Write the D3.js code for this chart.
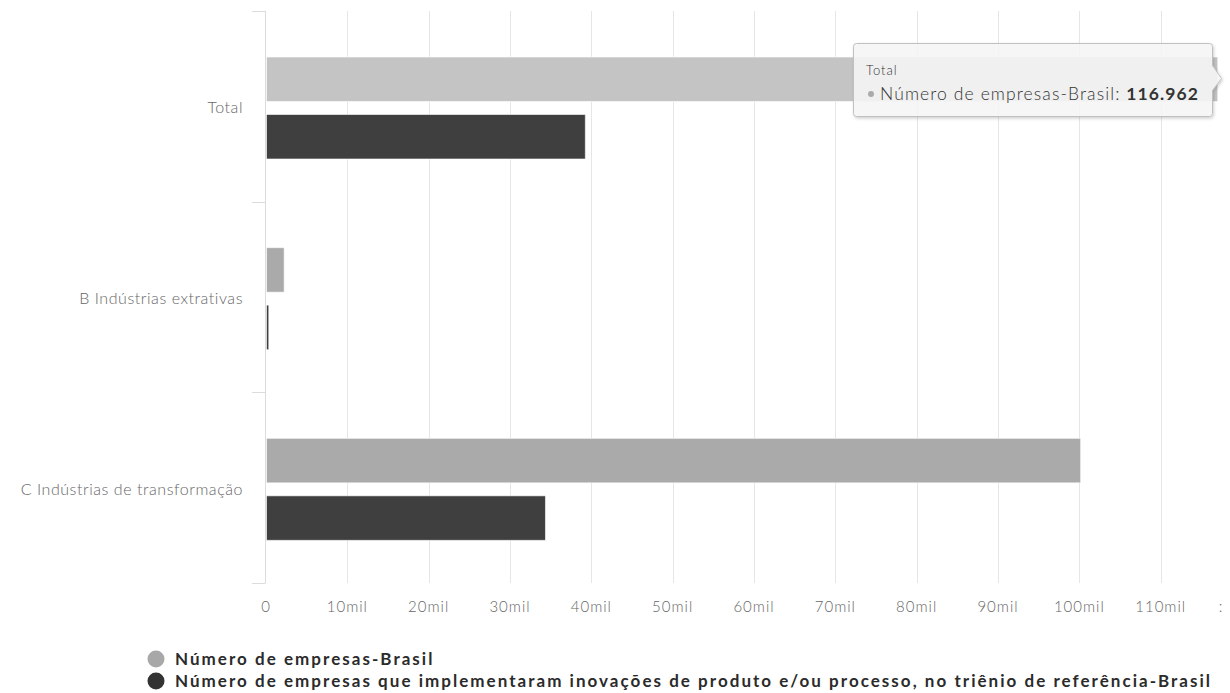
<!DOCTYPE html>
<html>
<head>
<meta charset="utf-8">
<script src="https://cdn.jsdelivr.net/npm/d3@7/dist/d3.min.js"></script>
<style>
  html, body { margin: 0; padding: 0; background: #fff; }
  svg { display: block; font-family: Lato, "Open Sans", sans-serif; }
</style>
</head>
<body>
<svg id="chart" width="1230" height="693"></svg>
<script>
// Categories (CNAE sections) and the two series, in companies
const categories = ["Total", "B Indústrias extrativas", "C Indústrias de transformação"];
const seriesNames = [
  "Número de empresas-Brasil",
  "Número de empresas que implementaram inovações de produto e/ou processo, no triênio de referência-Brasil"
];
const empresas = [116962, 2170, 100100];
const inovadoras = [39200, 280, 34300];
const tickValues = [0, 10000, 20000, 30000, 40000, 50000, 60000, 70000, 80000, 90000, 100000, 110000, 120000];
const tickLabels = ["0", "10mil", "20mil", "30mil", "40mil", "50mil", "60mil", "70mil", "80mil", "90mil", "100mil", "110mil", ":"];
const seriesColors = ["#aaaaaa", "#3f3f3f"];
const hoverColor = "#c4c4c4";

const svg = d3.select("#chart");

const x = d3.scaleLinear().domain([0, 120000]).range([266, 1242]);
const y = d3.scaleBand().domain(categories).range([11, 583]);
const inner = d3.scaleBand().domain([0, 1]).range([46, 148]).paddingInner(0.226);

// Vertical gridlines
svg.append("g").selectAll("line")
  .data(tickValues.slice(1))
  .join("line")
  .attr("x1", d => Math.round(x(d)) + 0.5).attr("x2", d => Math.round(x(d)) + 0.5)
  .attr("y1", 11).attr("y2", 583)
  .attr("stroke", "#e6e6e6").attr("stroke-width", 1);

// Category axis line with ticks at band edges
const yAxis = svg.append("g");
yAxis.append("line")
  .attr("x1", 265.5).attr("x2", 265.5).attr("y1", 11).attr("y2", 583)
  .attr("stroke", "#dcdcdc");
const edges = [11, ...categories.map(c => y(c) + y.bandwidth())];
yAxis.selectAll("line.tk").data(edges).join("line").attr("class", "tk")
  .attr("x1", 252).attr("x2", 265.5)
  .attr("y1", d => Math.round(d) + 0.5).attr("y2", d => Math.round(d) + 0.5)
  .attr("stroke", "#dcdcdc");
yAxis.selectAll("text").data(categories).join("text")
  .attr("x", 243).attr("y", d => y(d) + y.bandwidth() / 2 + 3)
  .attr("text-anchor", "end").attr("dominant-baseline", "middle")
  .attr("font-size", 16).attr("letter-spacing", 0.55).attr("font-weight", 300).attr("fill", "#666")
  .text(d => d);

// Value axis labels (the last one sits against the right edge)
svg.append("g").selectAll("text")
  .data(tickValues)
  .join("text")
  .attr("x", d => Math.min(x(d), 1221)).attr("y", 612)
  .attr("text-anchor", "middle")
  .attr("font-size", 15).attr("letter-spacing", 1).attr("font-weight", 300).attr("fill", "#666")
  .text((d, i) => tickLabels[i]);

// Bars
const rows = categories.map((c, i) => ({ c, vals: [empresas[i], inovadoras[i]] }));
const groups = svg.append("g").selectAll("g")
  .data(rows).join("g")
  .attr("transform", d => `translate(0,${y(d.c)})`);
groups.selectAll("rect")
  .data(d => d.vals.map((v, k) => ({ v, k, c: d.c })))
  .join("rect")
  .attr("x", x(0) + 0.5)
  .attr("y", d => inner(d.k))
  .attr("width", d => Math.max(1, x(d.v) - x(0)))
  .attr("height", inner.bandwidth())
  .attr("fill", d => (d.c === "Total" && d.k === 0) ? hoverColor : seriesColors[d.k])
  .attr("stroke", "#ffffff").attr("stroke-opacity", 0.6).attr("stroke-width", 1);

// Legend
const legend = svg.append("g");
seriesNames.forEach((name, i) => {
  const ly = 659 + i * 22;
  legend.append("circle").attr("cx", 156).attr("cy", ly).attr("r", 8.5)
    .attr("fill", i === 0 ? "#a8a8a8" : "#333");
  legend.append("text").attr("x", 175).attr("y", ly + 5.5)
    .attr("font-size", 17).attr("letter-spacing", 2.03).attr("font-weight", 700).attr("fill", "#2b2b2b")
    .text(name);
});

// Tooltip for the hovered Total bar
const defs = svg.append("defs");
const f = defs.append("filter").attr("id", "shadow").attr("x", "-10%").attr("y", "-20%").attr("width", "130%").attr("height", "160%");
f.append("feDropShadow").attr("dx", 1).attr("dy", 1.5).attr("stdDeviation", 1.5).attr("flood-color", "#000").attr("flood-opacity", 0.2);

const tx = 853.5, ty = 43.5, tw = 359, th = 73;
const tip = svg.append("g");
const tipPath = `M${tx + 3},${ty} H${tx + tw - 3} Q${tx + tw},${ty} ${tx + tw},${ty + 3} V${ty + 22}
  L${tx + tw + 9},${ty + 35} L${tx + tw},${ty + 47} V${ty + th - 3} Q${tx + tw},${ty + th} ${tx + tw - 3},${ty + th}
  H${tx + 3} Q${tx},${ty + th} ${tx},${ty + th - 3} V${ty + 3} Q${tx},${ty} ${tx + 3},${ty} Z`;
tip.append("path").attr("d", tipPath)
  .attr("fill", "rgba(247,247,247,0.88)")
  .attr("stroke", "#c0c0c0").attr("stroke-width", 1)
  .attr("filter", "url(#shadow)");
tip.append("text").attr("x", 866).attr("y", 75)
  .attr("font-size", 13).attr("letter-spacing", 1).attr("font-weight", 300).attr("fill", "#333").text(categories[0]);
tip.append("circle").attr("cx", 871).attr("cy", 94).attr("r", 3).attr("fill", seriesColors[0]);
const t2 = tip.append("text").attr("x", 880).attr("y", 100)
  .attr("font-size", 17.5).attr("letter-spacing", 1.1).attr("font-weight", 300).attr("fill", "#333");
t2.append("tspan").text(seriesNames[0] + ": ");
t2.append("tspan").attr("font-weight", 700).text(d3.format(",")(empresas[0]).replace(/,/g, "."));
</script>
</body>
</html>
